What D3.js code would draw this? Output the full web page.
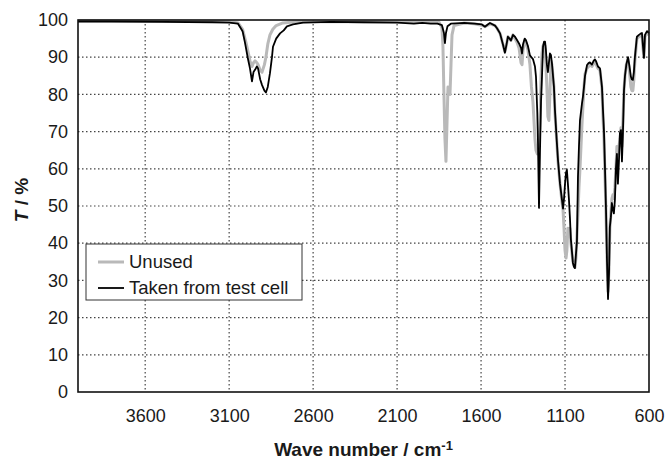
<!DOCTYPE html>
<html>
<head>
<meta charset="utf-8">
<script src="https://cdn.jsdelivr.net/npm/d3@7"></script>
<style>
  body { margin: 0; background: #fff; }
  text { font-family: "Liberation Sans", Arial, sans-serif; fill: #1a1a1a; }
  .axis-label { font-weight: bold; font-size: 19px; }
</style>
</head>
<body>
<svg id="chart" width="665" height="459"></svg>
<script>
// x ticks and y ticks
const xTicks = [3600, 3100, 2600, 2100, 1600, 1100, 600];
const yTicks = [0, 10, 20, 30, 40, 50, 60, 70, 80, 90, 100];

// "Unused" (grey)
const unusedWn = [4000, 3500, 3100, 3047, 3020, 3000, 2985, 2976, 2964, 2955, 2946, 2935, 2928, 2915, 2904, 2890, 2881, 2870, 2857, 2840, 2820, 2780, 2700, 2000, 1850, 1833, 1827, 1821, 1815, 1809, 1803, 1797, 1791, 1785, 1779, 1773, 1761, 1700, 1640, 1595, 1577, 1560, 1547, 1517, 1505, 1487, 1470, 1458, 1448, 1440, 1422, 1410, 1386, 1374, 1362, 1356, 1350, 1340, 1333, 1321, 1309, 1300, 1291, 1279, 1273, 1265, 1255, 1249, 1243, 1237, 1231, 1225, 1219, 1208, 1202, 1196, 1190, 1184, 1178, 1166, 1160, 1150, 1142, 1130, 1118, 1112, 1106, 1100, 1094, 1089, 1083, 1077, 1071, 1065, 1053, 1047, 1041, 1035, 1029, 1023, 1017, 1011, 1005, 999, 993, 987, 981, 969, 960, 952, 940, 922, 904, 892, 880, 874, 868, 862, 856, 850, 844, 838, 833, 827, 821, 815, 809, 803, 797, 791, 785, 779, 773, 767, 761, 755, 749, 743, 735, 725, 716, 708, 702, 696, 690, 684, 672, 660, 648, 642, 636, 630, 624, 612, 600];
const unusedT = [99.8, 99.7, 99.6, 99.2, 97.5, 94, 91, 89, 87.5, 88.5, 89, 88.5, 88, 86.5, 86, 88, 90, 93.5, 96, 97.5, 98.5, 99.2, 99.5, 99.6, 99.4, 98, 93, 80, 68, 62, 72, 82, 81, 80, 88, 96, 98.5, 99.2, 99, 98.6, 98.2, 98.6, 99, 98.5, 97.8, 96.4, 93.5, 91.5, 93.5, 95.5, 94.5, 96, 94, 92.5, 88.5, 88, 92, 94.5, 94, 92, 88, 82, 78, 68, 65, 64, 66, 72, 85, 91, 93, 93.5, 93, 82, 74, 73, 80, 89, 88, 82, 75, 68, 62, 56, 51, 49, 44, 38, 36, 38, 44, 42, 44, 40, 35, 34, 33.5, 36, 42, 48, 55, 60, 66, 72, 77, 82, 85.5, 87, 87.5, 88, 87.5, 88.8, 87, 86.5, 81.5, 74, 68, 58, 48, 36, 27, 33, 44, 48, 52, 53, 52, 55, 60, 66, 64, 66, 68, 71, 66, 73, 81, 85, 88, 89.5, 86, 82, 81, 81, 84, 89, 95, 95.5, 96, 96, 92.5, 90, 95.5, 96.5, 96];

// "Taken from test cell" (black)
const cellWn = [4000, 3800, 3500, 3200, 3100, 3047, 3020, 3006, 2990, 2976, 2964, 2955, 2946, 2935, 2928, 2915, 2904, 2890, 2881, 2870, 2857, 2845, 2839, 2820, 2797, 2775, 2756, 2720, 2660, 2500, 2300, 2100, 2000, 1950, 1900, 1860, 1833, 1821, 1815, 1809, 1800, 1780, 1700, 1640, 1595, 1577, 1560, 1547, 1517, 1505, 1487, 1470, 1458, 1448, 1440, 1430, 1422, 1410, 1398, 1386, 1374, 1362, 1356, 1350, 1340, 1333, 1321, 1309, 1300, 1291, 1279, 1273, 1265, 1261, 1255, 1249, 1243, 1237, 1231, 1225, 1219, 1214, 1208, 1202, 1196, 1190, 1184, 1178, 1166, 1160, 1150, 1142, 1130, 1118, 1112, 1106, 1100, 1094, 1089, 1083, 1077, 1071, 1065, 1053, 1047, 1041, 1035, 1029, 1023, 1017, 1011, 999, 993, 987, 981, 969, 960, 952, 940, 930, 922, 916, 904, 892, 880, 874, 868, 862, 856, 850, 844, 838, 833, 827, 821, 815, 809, 803, 797, 791, 785, 779, 773, 767, 761, 755, 749, 743, 735, 725, 716, 708, 702, 696, 690, 684, 672, 660, 648, 642, 636, 630, 624, 612, 600];
const cellT = [99.6, 99.6, 99.5, 99.4, 99.3, 99.0, 97, 94, 90, 87, 83.5, 86, 86.6, 87.5, 87, 84, 82.5, 81, 80.5, 82, 85.7, 90, 92.8, 95, 96.4, 97.2, 98.3, 98.8, 99.3, 99.5, 99.4, 99.3, 99.0, 99.2, 99.0, 99.0, 98.6, 96.5, 93.8, 96.5, 98.3, 99.0, 99.2, 99.0, 98.8, 98.2, 98.8, 99.2, 98.5, 97.8, 96.4, 93.5, 91.2, 93.5, 95.5, 95.0, 94.5, 96.0, 95.5, 94.6, 93.7, 92.5, 91.0, 93.5, 95.0, 94.6, 93.0, 90.5, 90.0, 89.5, 87.5, 84.8, 75, 67, 49.5, 65, 78, 85, 92.8, 94.2, 94.2, 92, 88, 86, 88.5, 91, 90.6, 88.4, 82, 75.8, 68, 62.4, 56, 51.6, 49.3, 52, 56, 59, 59.7, 56, 52, 47, 41, 34.7, 33.7, 33.3, 37, 40.5, 57.8, 66, 73, 77.6, 79.5, 82, 85, 87.9, 88.4, 88.6, 88.0, 89.0, 89.4, 89.0, 87.5, 87.0, 82, 75.8, 70, 60, 49, 35, 25, 32, 44.4, 47, 50.8, 49, 48, 51.6, 60, 64, 56, 62, 69.6, 70.4, 62, 70, 81, 85, 88, 90, 87.5, 84.8, 84, 83.9, 86, 90, 95.5, 96, 96.4, 96.5, 93, 89.8, 96, 97, 96.5];

const series = [
  { name: 'Unused', wn: unusedWn, t: unusedT, color: '#b9b9b9', width: 3 },
  { name: 'Taken from test cell', wn: cellWn, t: cellT, color: '#000', width: 1.8 }
];

const margin = { left: 78, right: 16, top: 20, bottom: 67 };
const svg = d3.select('#chart');
const width = +svg.attr('width');
const height = +svg.attr('height');
const innerWidth = width - margin.left - margin.right;
const innerHeight = height - margin.top - margin.bottom;

const g = svg.append('g')
  .attr('transform', `translate(${margin.left},${margin.top})`);

const xScale = d3.scaleLinear().domain([4000, 600]).range([0, innerWidth]);
const yScale = d3.scaleLinear().domain([0, 100]).range([innerHeight, 0]);

// dotted grid
g.append('g').selectAll('line').data(xTicks.filter(d => d !== 600))
  .enter().append('line')
  .attr('x1', d => xScale(d)).attr('x2', d => xScale(d))
  .attr('y1', 0).attr('y2', innerHeight)
  .attr('stroke', '#444').attr('stroke-width', 1.2)
  .attr('stroke-dasharray', '1.5,2.5');

g.append('g').selectAll('line').data(yTicks.filter(d => d > 0 && d < 100))
  .enter().append('line')
  .attr('x1', 0).attr('x2', innerWidth)
  .attr('y1', d => yScale(d)).attr('y2', d => yScale(d))
  .attr('stroke', '#444').attr('stroke-width', 1.2)
  .attr('stroke-dasharray', '1.5,2.5');

const xAxis = d3.axisBottom(xScale).tickValues(xTicks).tickFormat(d3.format('d'))
  .tickSize(0).tickPadding(17);
const yAxis = d3.axisLeft(yScale).tickValues(yTicks).tickFormat(d3.format('d'))
  .tickSize(0).tickPadding(10);

const xAxisG = g.append('g').attr('transform', `translate(0,${innerHeight})`).call(xAxis);
const yAxisG = g.append('g').call(yAxis);
[xAxisG, yAxisG].forEach(a => {
  a.select('.domain').remove();
  a.selectAll('text').style('font-size', '18px').attr('fill', '#1a1a1a')
    .style('font-family', '"Liberation Sans", Arial, sans-serif');
});

// spectra
const line = d3.line().x(d => xScale(d[0])).y(d => yScale(d[1]));
series.forEach(s => {
  g.append('path')
    .datum(s.wn.map((w, i) => [w, s.t[i]]))
    .attr('fill', 'none')
    .attr('stroke', s.color)
    .attr('stroke-width', s.width)
    .attr('stroke-linejoin', 'round')
    .attr('d', line);
});

// frame
g.append('rect')
  .attr('width', innerWidth).attr('height', innerHeight)
  .attr('fill', 'none').attr('stroke', '#111').attr('stroke-width', 1.6);

// legend
const lg = g.append('g').attr('transform', `translate(${86 - margin.left},${244 - margin.top})`);
lg.append('rect')
  .attr('width', 216).attr('height', 56)
  .attr('fill', '#fff').attr('stroke', '#333').attr('stroke-width', 1);
series.forEach((s, i) => {
  const y = 18 + i * 26;
  lg.append('line')
    .attr('x1', 12).attr('x2', 38).attr('y1', y).attr('y2', y)
    .attr('stroke', s.color).attr('stroke-width', s.width);
  lg.append('text')
    .attr('x', 43).attr('y', y).attr('dy', '0.35em')
    .style('font-size', '18.5px')
    .text(s.name);
});

// axis titles
g.append('text')
  .attr('class', 'axis-label')
  .attr('x', innerWidth / 2).attr('y', innerHeight + 64)
  .style('text-anchor', 'middle')
  .text('Wave number / cm')
  .append('tspan').attr('dy', '-0.45em').style('font-size', '13px').text('-1');

const yl = g.append('text')
  .attr('class', 'axis-label')
  .attr('transform', `translate(${28 - margin.left},${200 - margin.top}) rotate(-90)`)
  .style('text-anchor', 'middle');
yl.append('tspan').style('font-style', 'italic').text('T');
yl.append('tspan').text(' / %');
</script>
</body>
</html>
